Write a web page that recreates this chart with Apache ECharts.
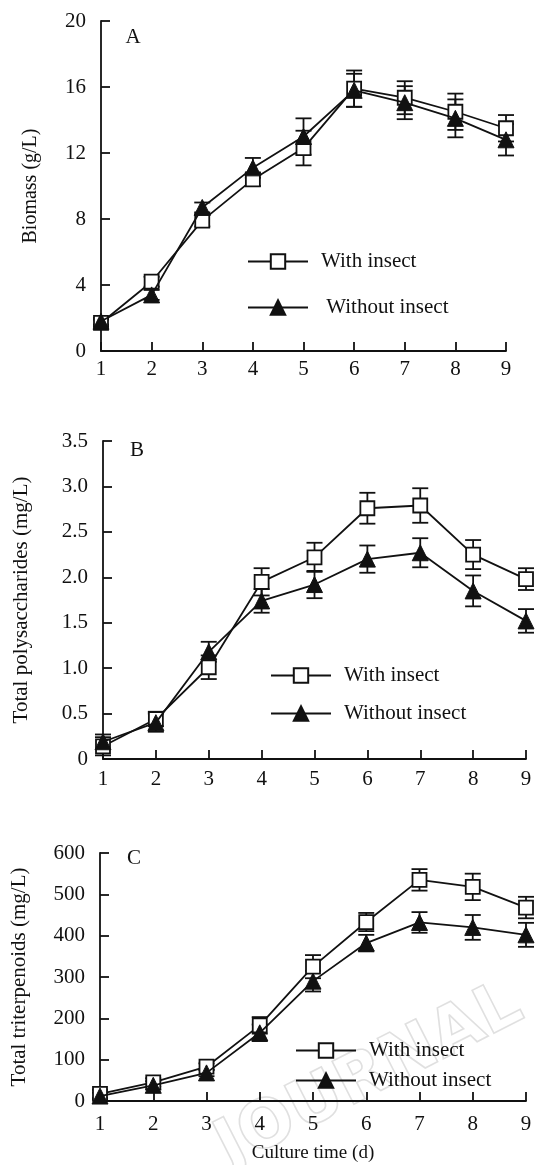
<!DOCTYPE html>
<html lang="en">
<head>
    <meta charset="utf-8" />
    <title>Culture time course</title>
    <script src="https://cdn.jsdelivr.net/npm/echarts@6/dist/echarts.min.js"></script>
    <style>
        html, body { margin: 0; padding: 0; background: #fff; }
        #main { width: 541px; height: 1165px; }
    </style>
</head>
<body>
    <div id="main"></div>
    <script>
        // culture days (x axis)
        var days = [1, 2, 3, 4, 5, 6, 7, 8, 9];

        // A: biomass (g/L)
        var biomassWith = [1.7, 4.2, 7.9, 10.4, 12.3, 15.9, 15.35, 14.5, 13.5];
        var biomassWithErr = [0.2, 0.3, 0.35, 0.4, 1.05, 1.1, 1.0, 1.1, 0.8];
        var biomassWithout = [1.8, 3.4, 8.7, 11.1, 13.0, 15.8, 15.05, 14.1, 12.8];
        var biomassWithoutErr = [0.2, 0.3, 0.3, 0.6, 1.1, 1.0, 1.0, 1.15, 0.95];

        // B: total polysaccharides (mg/L)
        var polyWith = [0.14, 0.44, 1.01, 1.95, 2.22, 2.76, 2.79, 2.25, 1.98];
        var polyWithErr = [0.1, 0.08, 0.13, 0.15, 0.16, 0.17, 0.19, 0.16, 0.12];
        var polyWithout = [0.19, 0.40, 1.18, 1.74, 1.92, 2.20, 2.27, 1.85, 1.52];
        var polyWithoutErr = [0.08, 0.1, 0.11, 0.13, 0.15, 0.15, 0.16, 0.17, 0.13];

        // C: total triterpenoids (mg/L)
        var triWith = [17, 45, 83, 183, 325, 433, 535, 518, 468];
        var triWithErr = [10, 10, 8, 20, 28, 22, 26, 32, 26];
        var triWithout = [12, 38, 68, 165, 290, 382, 432, 420, 402];
        var triWithoutErr = [8, 10, 8, 20, 25, 20, 25, 30, 29];

        var yNames = ['Biomass (g/L)', 'Total polysaccharides (mg/L)', 'Total triterpenoids (mg/L)'];
        var panelLetters = ['A', 'B', 'C'];
        var legendNames = ['With insect', 'Without insect'];

        var font = '"Liberation Serif", "DejaVu Serif", serif';
        var ink = '#111';

        function pairs(ys, errs) {
            return days.map(function (d, i) { return errs ? [d, ys[i], errs[i]] : [d, ys[i]]; });
        }

        function errorBars(params, api) {
            var x = api.value(0), y = api.value(1), e = api.value(2);
            var hi = api.coord([x, y + e]);
            var lo = api.coord([x, y - e]);
            var w = 8;
            var st = { stroke: ink, lineWidth: 1.8 };
            return {
                type: 'group',
                children: [
                    { type: 'line', shape: { x1: hi[0], y1: hi[1], x2: lo[0], y2: lo[1] }, style: st },
                    { type: 'line', shape: { x1: hi[0] - w, y1: hi[1], x2: hi[0] + w, y2: hi[1] }, style: st },
                    { type: 'line', shape: { x1: lo[0] - w, y1: lo[1], x2: lo[0] + w, y2: lo[1] }, style: st }
                ]
            };
        }

        var grids = [
            { left: 101, top: 21, width: 405, height: 330 },
            { left: 103, top: 441, width: 423, height: 318 },
            { left: 100, top: 853, width: 426, height: 248 }
        ];

        var yRanges = [
            { max: 20, interval: 4 },
            { max: 3.5, interval: 0.5 },
            { max: 600, interval: 100 }
        ];
        var yNameGaps = [60, 71, 70];
        var yNameSizes = [20, 21, 21];
        var xLabelMargins = [8, 10, 13];

        var axisLine = { show: true, lineStyle: { color: ink, width: 1.8 } };
        var axisTick = { show: true, inside: true, length: 9, lineStyle: { color: ink, width: 1.8 } };
        var labelStyle = { color: ink, fontFamily: font, fontSize: 21 };

        var xAxes = grids.map(function (g, i) {
            return {
                gridIndex: i, type: 'value', min: 1, max: 9, interval: 1,
                axisLine: axisLine, axisTick: axisTick, splitLine: { show: false },
                axisLabel: Object.assign({ margin: xLabelMargins[i] }, labelStyle),
                name: i === 2 ? 'Culture time (d)' : '',
                nameLocation: 'middle', nameGap: 43,
                nameTextStyle: { color: ink, fontFamily: font, fontSize: 19 }
            };
        });

        var yAxes = grids.map(function (g, i) {
            return {
                gridIndex: i, type: 'value', min: 0, max: yRanges[i].max, interval: yRanges[i].interval,
                axisLine: axisLine, axisTick: axisTick, splitLine: { show: false },
                axisLabel: Object.assign({
                    margin: 15,
                    formatter: function (v) { return i === 1 && v !== 0 ? v.toFixed(1) : String(v); }
                }, labelStyle),
                name: yNames[i], nameLocation: 'middle', nameRotate: 90, nameGap: yNameGaps[i],
                nameTextStyle: { color: ink, fontFamily: font, fontSize: yNameSizes[i] }
            };
        });

        var panels = [
            [biomassWith, biomassWithErr, biomassWithout, biomassWithoutErr],
            [polyWith, polyWithErr, polyWithout, polyWithoutErr],
            [triWith, triWithErr, triWithout, triWithoutErr]
        ];

        var series = [];
        panels.forEach(function (p, i) {
            series.push({
                type: 'custom', xAxisIndex: i, yAxisIndex: i, z: 1,
                renderItem: errorBars, data: pairs(p[0], p[1]), silent: true
            });
            series.push({
                type: 'custom', xAxisIndex: i, yAxisIndex: i, z: 1,
                renderItem: errorBars, data: pairs(p[2], p[3]), silent: true
            });
            series.push({
                name: legendNames[0], type: 'line', xAxisIndex: i, yAxisIndex: i, z: 3,
                data: pairs(p[0]), symbol: 'rect', symbolSize: 14,
                lineStyle: { color: ink, width: 1.8 },
                itemStyle: { color: '#fff', borderColor: ink, borderWidth: 1.8 }
            });
            series.push({
                name: legendNames[1], type: 'line', xAxisIndex: i, yAxisIndex: i, z: 4,
                data: pairs(p[2]), symbol: 'triangle', symbolSize: 16,
                lineStyle: { color: ink, width: 1.8 },
                itemStyle: { color: ink, borderColor: ink, borderWidth: 1 }
            });
        });

        var legendBase = {
            orient: 'vertical', itemWidth: 60, itemHeight: 18, padding: 0,
            textStyle: { color: ink, fontFamily: font, fontSize: 21, padding: [0, 0, 0, 8] },
            data: legendNames, selectedMode: false
        };
        var legends = [
            Object.assign({}, legendBase, {
                left: 247, top: 251, itemGap: 25,
                formatter: function (n) { return n === 'Without insect' ? ' ' + n : n; }
            }),
            Object.assign({}, legendBase, { left: 270, top: 665, itemGap: 17 }),
            Object.assign({}, legendBase, { left: 295, top: 1040, itemGap: 9 })
        ];

        var letterPos = [[133, 37], [137, 450], [134, 858]];
        var graphics = panelLetters.map(function (t, i) {
            return {
                type: 'text', x: letterPos[i][0], y: letterPos[i][1], z: 10,
                style: { text: t, font: '21px ' + font, fill: ink, align: 'center', verticalAlign: 'middle' }
            };
        });
        // faint outlined watermark over panel C
        graphics.push({
            type: 'text', x: 236, y: 1182, rotation: 0.47, z: -10,
            style: {
                text: 'JOURNAL', font: 'bold 66px "DejaVu Sans"',
                fill: 'rgba(255,255,255,0)', stroke: '#e0e0e0', lineWidth: 1.6,
                verticalAlign: 'bottom'
            }
        });

        var myChart = echarts.init(document.getElementById('main'));
        myChart.setOption({
            animation: false,
            backgroundColor: '#fff',
            grid: grids,
            xAxis: xAxes,
            yAxis: yAxes,
            legend: legends,
            graphic: graphics,
            series: series
        });
    </script>
</body>
</html>
